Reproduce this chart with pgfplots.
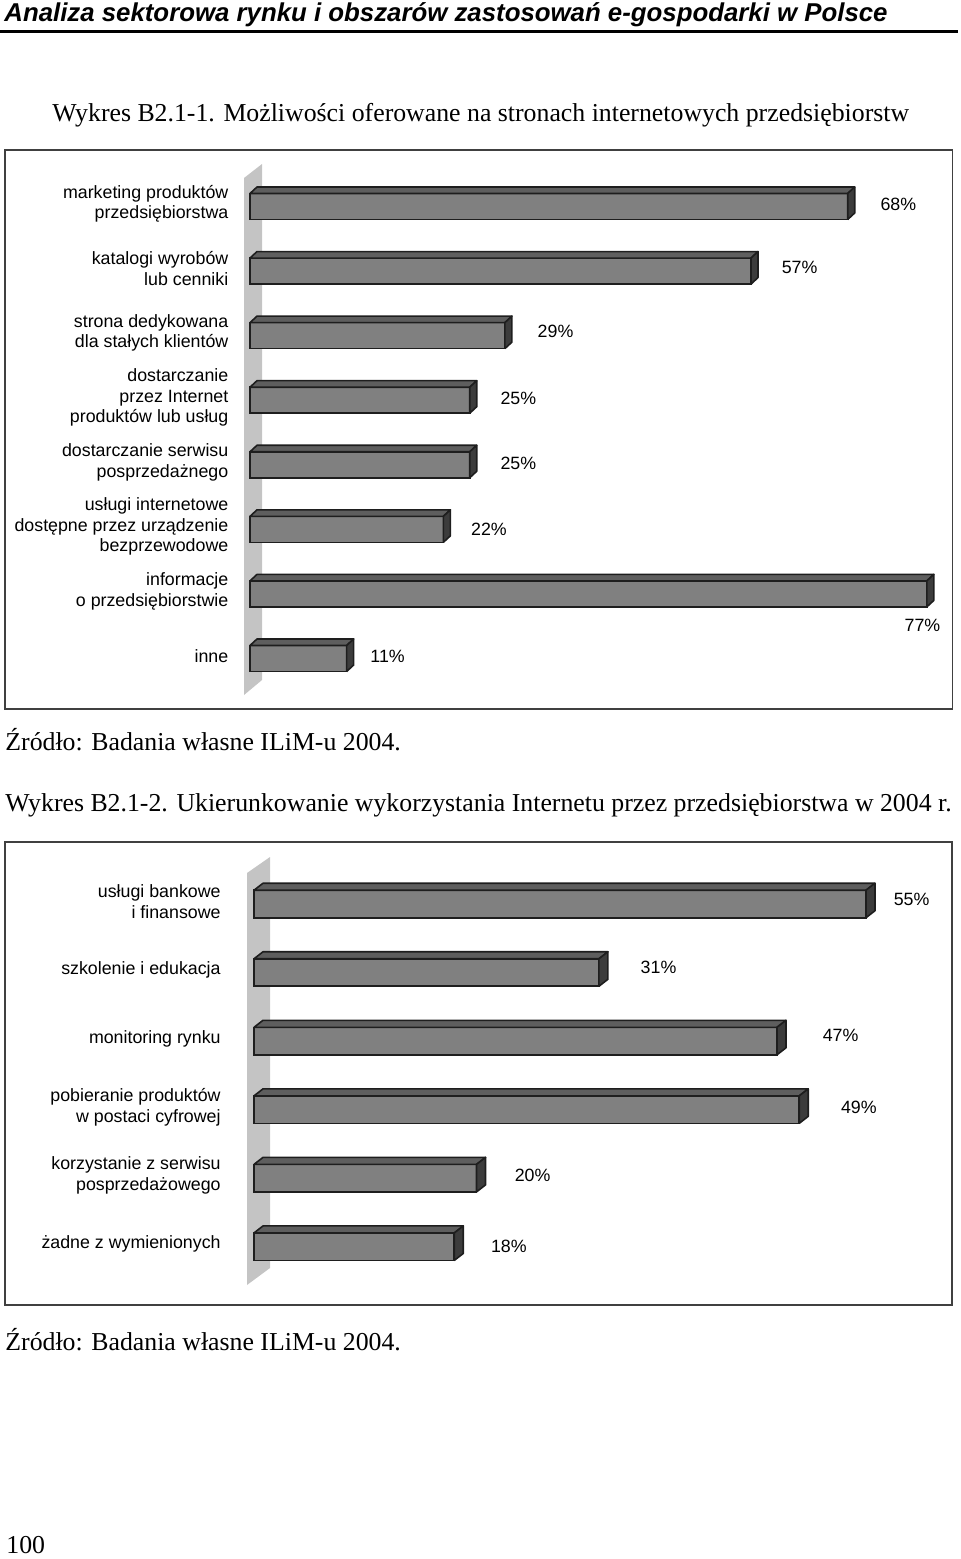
\documentclass[border=0pt]{standalone}
\usepackage{fontspec}
\setmainfont{Liberation Serif}
\newfontfamily\arial{Liberation Sans}
\usepackage{pgfplots}
\pgfplotsset{compat=1.18}
\usepackage{pgfplotstable}
\definecolor{frontc}{HTML}{808080}
\definecolor{topc}{HTML}{5E5E5E}
\definecolor{sidec}{HTML}{3C3C3C}
\definecolor{edgec}{HTML}{1E1E1E}
\definecolor{wallc}{HTML}{C4C4C4}
\definecolor{framec}{HTML}{404040}

% y = category position (top = highest), v = percent, lx/ly = label offset (pt)
\pgfplotstableread{
y v lx ly
8 68 16 1.25
7 57 15 2
6 29 16 2.25
5 25 15 1
4 25 15 0.75
3 22 13.5 0
2 77 -11.5 -15.5
1 11 11.5 1
}\dataA

\pgfplotstableread{
y v lx ly
6 55 13.5 2.25
5 31 20.5 2.5
4 47 22.5 3
3 49 20.5 1
2 20 18.75 1.5
1 18 18 0
}\dataB

\newcommand\labfont{\arial\fontsize{8.9}{10.25}\selectfont}
\newcommand\serfont{\fontsize{12.9}{15}\selectfont}

% faces of the 3D bars: #1 table, #2 last row, #3 half bar width, #4 depth y, #5 depth x (axis units)
\newcommand\barfaces[5]{%
  \pgfplotsinvokeforeach{0,...,#2}{%
    \pgfplotstablegetelem{##1}{v}\of#1\let\vv\pgfplotsretval
    \pgfplotstablegetelem{##1}{y}\of#1\let\yy\pgfplotsretval
    \pgfmathsetmacro\ya{\yy+#3}%
    \pgfmathsetmacro\yb{\yy+#3+#4}%
    \pgfmathsetmacro\yc{\yy-#3}%
    \pgfmathsetmacro\yd{\yy-#3+#4}%
    \pgfmathsetmacro\va{\vv+#5}%
    \edef\temp{\noexpand\addplot[fill=topc, draw=edgec, line width=0.8pt, line join=round]
      coordinates {(0,\ya) (\vv,\ya) (\va,\yb) (#5,\yb) (0,\ya)};
      \noexpand\addplot[fill=sidec, draw=edgec, line width=0.8pt, line join=round]
      coordinates {(\vv,\yc) (\vv,\ya) (\va,\yb) (\va,\yd) (\vv,\yc)};}%
    \temp
  }%
}

\pgfplotsset{
  frontbar/.style={xbar, bar shift=0pt, bar width=#1, fill=frontc,
    draw=edgec, line width=0.8pt,
    visualization depends on={\thisrow{lx} \as \lx},
    visualization depends on={\thisrow{ly} \as \ly},
    point meta=\thisrow{v},
    nodes near coords={\pgfmathprintnumber{\pgfplotspointmeta}\%},
    every node near coord/.append style={anchor=west, inner sep=0pt,
      font=\labfont, text=black, xshift=\lx*1pt, yshift=\ly*1pt}},
  chartaxis/.style={anchor=north west, clip=false,
    /pgf/number format/assume math mode=true,
    axis line style={draw=none}, xtick=\empty, major tick length=0pt,
    yticklabel style={font=\labfont, align=right, inner sep=0pt}},
}

\begin{document}
\begin{tikzpicture}
\begin{scope}[x=0.5pt,y=-0.5pt]
% page header
\node[anchor=base west, inner sep=0pt, font=\arial\bfseries\itshape\fontsize{12.9}{15}\selectfont]
  at (4,21) {Analiza sektorowa rynku i obszarów zastosowań e-gospodarki w Polsce};
\draw[line width=1.5pt] (0,31) -- (958,31);
% chart 1 decorations
\node[anchor=base west, inner sep=0pt, font=\serfont] at (52,121)
  {Wykres B2.1-1. Możliwości oferowane na stronach internetowych przedsiębiorstw};
\draw[framec, line width=0.75pt] (5,150) rectangle (952.5,709);
\fill[wallc] (244,178) -- (262,164) -- (262,680) -- (244,695) -- cycle;
\node[anchor=base west, inner sep=0pt, font=\serfont] at (5,750)
  {Źródło: Badania własne ILiM-u 2004.};
% chart 2 decorations
\node[anchor=base west, inner sep=0pt, font=\serfont] at (5,811)
  {Wykres B2.1-2. Ukierunkowanie wykorzystania Internetu przez przedsiębiorstwa w 2004 r.};
\draw[framec, line width=0.75pt] (5,842) rectangle (952,1305);
\fill[wallc] (247,873) -- (270,857) -- (270,1268) -- (247,1285) -- cycle;
\node[anchor=base west, inner sep=0pt, font=\serfont] at (5,1350)
  {Źródło: Badania własne ILiM-u 2004.};
\node[anchor=base west, inner sep=0pt, font=\serfont] at (6,1553) {100};
\end{scope}

\begin{axis}[chartaxis, at={(125pt,-87.1pt)}, x=4.395pt, y=32.285pt,
  xmin=0, xmax=78, ymin=0.5, ymax=8.5,
  ytick={1,...,8},
  yticklabels={inne, {informacje\\o przedsiębiorstwie},
    {usługi internetowe\\dostępne przez urządzenie\\bezprzewodowe},
    {dostarczanie serwisu\\posprzedażnego},
    {dostarczanie\\przez Internet\\produktów lub usług},
    {strona dedykowana\\dla stałych klientów},
    {katalogi wyrobów\\lub cenniki},
    {marketing produktów\\przedsiębiorstwa}},
  yticklabel style={xshift=-10.65pt, yshift=1.25pt}]
\addplot[frontbar=13pt] table[x=v, y=y] {\dataA};
\barfaces{\dataA}{7}{0.2013}{0.1007}{0.796}
\end{axis}

\begin{axis}[chartaxis, at={(127pt,-434.85pt)}, x=5.5635pt, y=34.27pt,
  xmin=0, xmax=58, ymin=0.5, ymax=6.5,
  ytick={1,...,6},
  yticklabels={żadne z wymienionych,
    {korzystanie z serwisu\\posprzedażowego},
    {pobieranie produktów\\w postaci cyfrowej},
    monitoring rynku,
    szkolenie i edukacja,
    {usługi bankowe\\i finansowe}},
  yticklabel style={xshift=-16.5pt, yshift=1.25pt}]
\addplot[frontbar=13.75pt] table[x=v, y=y] {\dataB};
\barfaces{\dataB}{5}{0.2006}{0.1021}{0.8088}
\end{axis}

\pgfresetboundingbox
\path[use as bounding box] (0pt,0pt) rectangle (480pt,-779.5pt);
\end{tikzpicture}
\end{document}
